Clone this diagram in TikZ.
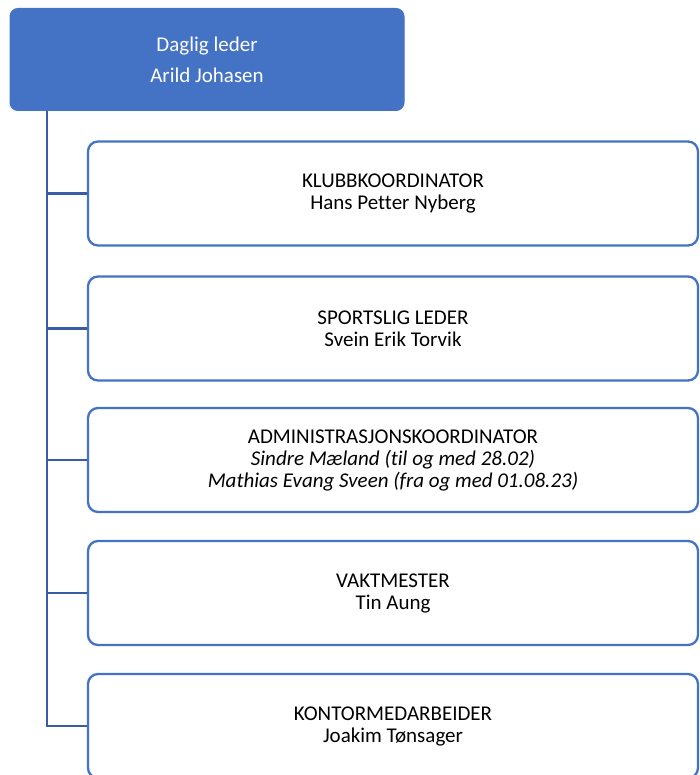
\documentclass[tikz,border=0pt]{standalone}
\usepackage{fontspec}
\setmainfont{Carlito}[Ligatures=NoCommon]
\definecolor{boxblue}{HTML}{4472C4}
\definecolor{lineblue}{HTML}{3A5BA5}
\begin{document}
\begin{tikzpicture}[x=1pt,y=-1pt,
    leder/.style={draw=boxblue,fill=boxblue,text=white,line width=1pt,
      rounded corners=8pt,minimum width=394pt,minimum height=102pt,
      align=center,font=\fontsize{21}{31}\selectfont},
    rolle/.style={draw=boxblue,fill=white,line width=2.3pt,
      rounded corners=10pt,minimum width=610pt,minimum height=104pt,
      align=center,font=\fontsize{21}{22}\selectfont},
    gren/.style={draw=lineblue,line width=2.5pt}]
  \useasboundingbox (0,0) rectangle (700,775);
  \clip (0,0) rectangle (700,775);
  % leder og roller
  \draw
    (207,59.5) node[leder] (leder) {Daglig leder\\Arild Johasen}
    (393,193.5) node[rolle] (klubb) {KLUBBKOORDINATOR\\Hans Petter Nyberg}
    (393,328.5) node[rolle] (sport) {SPORTSLIG LEDER\\Svein Erik Torvik}
    (393,460) node[rolle] (admin) {ADMINISTRASJONSKOORDINATOR\\
      \textit{Sindre Mæland (til og med 28.02)}\\
      \textit{Mathias Evang Sveen (fra og med 01.08.23)}}
    (393,593) node[rolle] (vakt) {VAKTMESTER\\Tin Aung}
    (393,726) node[rolle] (kontor) {KONTORMEDARBEIDER\\Joakim Tønsager};
  \path (leder.south) ++(-160,0) coordinate (stamme);
  \begin{scope}[gren]
    \draw (stamme) |- (klubb.west);
    \draw (stamme) |- (sport.west);
    \draw (stamme) |- (admin.west);
    \draw (stamme) |- (vakt.west);
    \draw (stamme) |- (kontor.west);
  \end{scope}
\end{tikzpicture}
\end{document}
